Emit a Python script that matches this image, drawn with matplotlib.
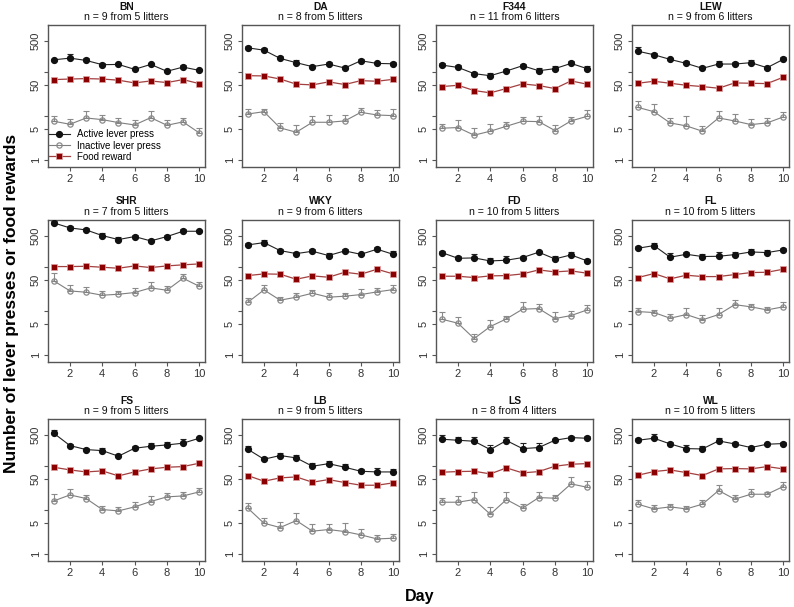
import numpy as np
import matplotlib
matplotlib.use("Agg")
import matplotlib.pyplot as plt

plt.rcParams['font.family'] = ['Liberation Sans', 'DejaVu Sans']

days = np.arange(1, 11)

strains = ["BN", "DA", "F344", "LEW", "SHR", "WKY", "FD", "FL", "FS", "LB", "LS", "WL"]
n_rats = [9, 8, 11, 9, 7, 9, 10, 10, 9, 9, 8, 10]
n_litters = [5, 5, 6, 6, 5, 6, 5, 5, 5, 5, 4, 5]

# mean active lever presses per day
active = [
    [186, 203, 180, 144, 146, 113, 146, 102, 127, 107],
    [348, 308, 200, 160, 130, 149, 121, 177, 154, 151],
    [141, 125, 90, 81, 103.5, 136.5, 105, 117, 154, 117],
    [292, 242, 190, 154, 119, 149, 149, 160, 123, 190],
    [986, 760, 684, 509, 413, 483, 385, 483, 638, 638],
    [312, 352, 232, 198, 224, 179, 228, 191, 249, 191],
    [209, 155, 158, 135, 140, 161, 213, 150, 185, 135],
    [262, 301, 164, 191, 170, 172, 188, 216, 209, 240],
    [545, 286, 232, 220, 164, 249, 276, 296, 324, 420],
    [236, 140, 170, 150, 97, 111, 92, 74.6, 72, 72],
    [399, 378, 359, 232, 372, 244, 258, 378, 434, 420],
    [378, 420, 312, 244, 240, 365, 312, 258, 307, 318],
]
active_sem = [
    [13, 43, 20, 10, 13, 8, 13, 7, 12, 8],
    [38, 34, 30, 24, 12, 19, 11, 19, 14, 11],
    [16, 14, 10, 11, 11, 15, 14, 20, 20, 18],
    [68, 22, 17, 20, 13, 28, 19, 21, 14, 21],
    [90, 69, 89, 87, 62, 44, 42, 53, 70, 46],
    [28, 53, 26, 18, 29, 23, 30, 17, 27, 40],
    [23, 23, 37, 23, 39, 15, 19, 23, 31, 18],
    [34, 39, 38, 25, 26, 48, 32, 41, 31, 31],
    [104, 26, 26, 29, 18, 37, 47, 56, 75, 38],
    [50, 21, 29, 29, 18, 17, 16, 10, 15, 11],
    [101, 80, 91, 69, 71, 84, 66, 34, 39, 46],
    [49, 98, 34, 46, 36, 69, 41, 28, 28, 35],
]

# mean inactive lever presses per day
inactive = [
    [7.45, 6.37, 8.85, 8.12, 6.95, 6.15, 9.0, 6.05, 7.2, 4.06],
    [10.9, 12.3, 5.27, 4.2, 7.07, 7.07, 7.58, 11.9, 10.35, 10.0],
    [5.18, 5.36, 3.6, 4.43, 5.74, 7.45, 7.32, 4.59, 7.58, 9.66],
    [15.4, 12.3, 6.83, 5.85, 4.43, 8.85, 7.58, 6.26, 6.83, 9.33],
    [47.5, 28.1, 26.2, 22.4, 23.6, 25.8, 32.9, 29.1, 54.5, 35.9],
    [15.5, 29.6, 17.3, 20.2, 24.9, 20.2, 21.3, 23.2, 26.7, 30.1],
    [6.38, 5.18, 2.32, 4.35, 6.5, 10.8, 11.15, 6.61, 7.73, 10.4],
    [9.53, 9.06, 6.73, 8.15, 6.17, 8.15, 13.7, 12.2, 10.4, 12.2],
    [15.8, 21.6, 17.9, 10.05, 9.37, 11.55, 15.3, 19.5, 20.5, 25.3],
    [10.8, 4.91, 3.92, 5.65, 3.24, 3.53, 3.18, 2.67, 2.16, 2.24],
    [14.75, 14.75, 16.95, 7.87, 16.95, 10.8, 18.8, 18.2, 38.5, 32.3],
    [13.3, 10.4, 11.55, 10.4, 13.3, 27.2, 17.3, 22.4, 22.4, 33.5],
]
inactive_sem = [
    [2.2, 1.9, 3.7, 2.4, 1.9, 1.7, 3.7, 1.8, 1.8, 1.2],
    [3.0, 2.1, 1.7, 1.9, 2.6, 3.1, 3.0, 2.8, 3.1, 3.9],
    [1.4, 2.5, 1.7, 2.0, 1.5, 1.9, 2.4, 1.5, 1.8, 4.0],
    [6.4, 6.4, 2.0, 3.9, 1.4, 3.7, 3.4, 2.3, 2.2, 2.8],
    [26, 10.4, 7.8, 5.7, 5.0, 7.7, 12.9, 7.4, 15.1, 9.1],
    [3.6, 8.9, 2.9, 5.6, 4.7, 4.7, 4.5, 7.5, 6.8, 8.3],
    [2.7, 1.9, 0.64, 1.7, 1.2, 5.3, 3.3, 2.9, 2.1, 3.1],
    [2.2, 1.4, 1.7, 3.2, 1.8, 3.6, 3.8, 1.8, 2.0, 3.6],
    [6.6, 8.0, 3.8, 2.3, 2.4, 3.7, 4.6, 5.0, 5.2, 6.4],
    [3.7, 1.7, 1.4, 2.9, 1.4, 1.2, 1.9, 1.05, 0.46, 0.62],
    [3.4, 6.2, 8.8, 3.5, 8.8, 2.7, 6.1, 3.5, 18.0, 13.5],
    [3.4, 2.4, 1.7, 2.0, 3.7, 9.4, 4.4, 7.2, 3.4, 10.0],
]

# mean food rewards per day
food = [
    [66, 68, 69.5, 68, 64, 55.5, 61.5, 56.5, 66, 53.5],
    [81, 80, 68, 52, 50, 58.5, 51, 62.5, 60.5, 67],
    [45.8, 49, 37.2, 33, 41.3, 52.6, 48.3, 41.3, 61.6, 51.8],
    [54.5, 60.5, 54.5, 49.1, 45.8, 42, 55.5, 54.5, 53.5, 74.5],
    [100.5, 100.5, 102, 97, 92, 104, 95.3, 104, 110, 115.5],
    [62.7, 68.4, 67.3, 51.8, 61.7, 57.5, 74.6, 67.3, 87.4, 68.4],
    [60.6, 60.6, 56.5, 61.7, 62.7, 68.4, 84.4, 76, 80.1, 71],
    [56.5, 69.6, 52.7, 63.9, 59.5, 59.5, 66.1, 73.4, 74.6, 87.4],
    [92, 80, 72, 76, 58.5, 72, 84.4, 92, 95.3, 113.5],
    [59.5, 44.3, 52.7, 55.5, 42, 48.3, 41.3, 35.9, 35.9, 40.6],
    [71, 73.4, 74.6, 65, 89, 68.4, 73.4, 97, 107.7, 111.5],
    [60.6, 73.4, 80, 69.6, 59.5, 84.4, 85.9, 84.4, 95.3, 84.4],
]

W, H = 794, 607
fig = plt.figure(figsize=(W / 100, H / 100), dpi=100)

col_left = [48, 242, 436, 632]
row_top = [25, 220, 419]
ax_w, ax_h = 157, 142

frame_col = "#555555"
for i, strain in enumerate(strains):
    r, c = divmod(i, 4)
    ax = fig.add_axes([col_left[c] / W, 1 - (row_top[r] + ax_h) / H, ax_w / W, ax_h / H])
    ax.set_yscale("log")

    ax.errorbar(days, active[i], yerr=[np.zeros(10), active_sem[i]], fmt="none",
                ecolor="#222222", elinewidth=0.8, capsize=2, capthick=0.8, zorder=2)
    ax.errorbar(days, inactive[i], yerr=[np.zeros(10), inactive_sem[i]], fmt="none",
                ecolor="#8a8a8a", elinewidth=0.8, capsize=2, capthick=0.8, zorder=2)

    ax.plot(days, active[i], "-o", color="#222222", lw=0.8, ms=4.2,
            mfc="#111111", mec="#111111", zorder=3, label="Active lever press")
    ax.plot(days, inactive[i], "-o", color="#7f7f7f", lw=0.8, ms=3.8,
            mfc="none", mec="#8a8a8a", mew=0.9, zorder=3, label="Inactive lever press")
    ax.plot(days, food[i], "-s", color="#a34040", lw=0.9, ms=4.4,
            mfc="#8b0000", mec="#e0a0a0", mew=0.5, zorder=3, label="Food reward")

    ax.set_xlim(0.64, 10.36)
    ax.set_ylim(0.68, 1150)
    ax.set_xticks([2, 4, 6, 8, 10])
    ax.set_yticks([1, 5, 10, 50, 100, 500])
    ax.set_yticklabels(["1", "5", "", "50", "", "500"], rotation=90, va="center")
    ax.yaxis.set_minor_locator(matplotlib.ticker.NullLocator())
    ax.tick_params(axis="both", labelsize=8, colors=frame_col, labelcolor="#333333",
                   length=3, width=0.8, pad=2)
    for sp in ax.spines.values():
        sp.set_color(frame_col)
        sp.set_linewidth(1.0)

    ax.text(0.5, 1.0 + 13.5 / ax_h, strain, transform=ax.transAxes, ha="center", va="bottom",
            fontsize=7.4, fontweight="bold", color="#111111")
    ax.text(0.5, 1.0 + 3 / ax_h, f"n = {n_rats[i]} from {n_litters[i]} litters",
            transform=ax.transAxes, ha="center", va="bottom", fontsize=7.6, color="#111111")

    if i == 0:
        ax.legend(loc="lower left", bbox_to_anchor=(-0.02, 0.01), frameon=False,
                  fontsize=7, handlelength=2.2, handletextpad=0.7, labelspacing=0.12,
                  borderaxespad=0.0)

fig.text(0.014, 0.5, "Number of lever presses or food rewards", rotation=90,
         ha="center", va="center", fontsize=12.5, fontweight="bold")
fig.text(0.529, 0.018, "Day", ha="center", va="center", fontsize=11.5, fontweight="bold")

fig.savefig("out.png", dpi=100)
